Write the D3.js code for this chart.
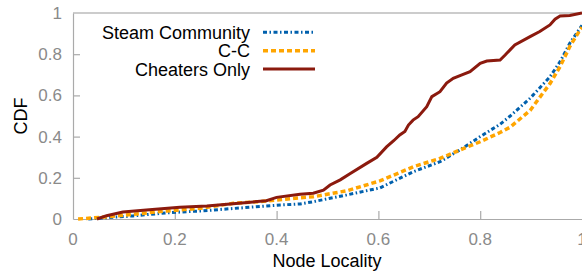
<!DOCTYPE html>
<html>
<head>
<meta charset="utf-8">
<script src="https://cdn.jsdelivr.net/npm/d3@7"></script>
<style>
  body { margin: 0; background: #fff; }
  svg { display: block; font-family: "Liberation Sans", Arial, sans-serif; }
</style>
</head>
<body>
<div id="chart"></div>
<script>
// series
const steamX = [0.03, 0.118, 0.184, 0.25, 0.38, 0.407, 0.446, 0.472, 0.538, 0.603, 0.669, 0.721, 0.76, 0.80, 0.839, 0.859, 0.898, 0.937, 0.957, 0.976, 0.996, 1.0];
const steamY = [0, 0.015, 0.03, 0.039, 0.063, 0.068, 0.073, 0.084, 0.117, 0.151, 0.23, 0.278, 0.335, 0.40, 0.46, 0.50, 0.586, 0.69, 0.764, 0.853, 0.926, 0.94];

const ccX = [0.01, 0.053, 0.118, 0.184, 0.25, 0.315, 0.38, 0.446, 0.472, 0.538, 0.603, 0.669, 0.721, 0.76, 0.80, 0.839, 0.859, 0.898, 0.937, 0.957, 0.976, 0.996, 1.0];
const ccY = [0, 0.008, 0.023, 0.039, 0.052, 0.076, 0.087, 0.103, 0.108, 0.137, 0.185, 0.254, 0.294, 0.335, 0.375, 0.42, 0.446, 0.527, 0.657, 0.74, 0.837, 0.917, 0.93];

const cheatX = [0.047, 0.066, 0.098, 0.15, 0.21, 0.263, 0.32, 0.38, 0.40, 0.446, 0.472, 0.492, 0.505, 0.525, 0.544, 0.577, 0.597, 0.616, 0.63, 0.642, 0.652, 0.659, 0.668, 0.678, 0.695, 0.705, 0.721, 0.734, 0.747, 0.764, 0.78, 0.80, 0.813, 0.839, 0.849, 0.868, 0.898, 0.917, 0.937, 0.947, 0.957, 0.976, 1.0];
const cheatY = [0, 0.016, 0.034, 0.045, 0.057, 0.063, 0.075, 0.089, 0.105, 0.12, 0.125, 0.14, 0.165, 0.19, 0.22, 0.27, 0.30, 0.35, 0.38, 0.408, 0.425, 0.456, 0.48, 0.497, 0.545, 0.594, 0.618, 0.66, 0.683, 0.70, 0.715, 0.756, 0.767, 0.772, 0.796, 0.845, 0.885, 0.91, 0.942, 0.97, 0.985, 0.988, 1.0];

const seriesNames = ['Steam Community', 'C-C', 'Cheaters Only'];
const xTicks = [0, 0.2, 0.4, 0.6, 0.8, 1];
const yTicks = [0, 0.2, 0.4, 0.6, 0.8, 1];

const W = 582, H = 278;
const margin = {top: 13, right: 0, bottom: 59, left: 73};

const x = d3.scaleLinear().domain([0, 1]).range([margin.left, W - margin.right]);
const y = d3.scaleLinear().domain([0, 1]).range([H - margin.bottom, margin.top]);

const svg = d3.select('#chart').append('svg')
  .attr('width', W)
  .attr('height', H);

svg.append('defs').append('clipPath').attr('id', 'plot')
  .append('rect')
  .attr('x', margin.left).attr('y', margin.top - 3)
  .attr('width', W - margin.left).attr('height', H - margin.bottom - margin.top + 6);

// frame: top line
svg.append('line')
  .attr('x1', x(0)).attr('x2', x(1))
  .attr('y1', y(1)).attr('y2', y(1))
  .attr('stroke', '#999').attr('stroke-width', 1.2);

// axes, ticks pointing inward
const xAxis = g => g
  .attr('transform', `translate(0,${y(0)})`)
  .call(d3.axisTop(x).tickValues(xTicks).tickSize(8).tickSizeOuter(0).tickFormat(d3.format('')))
  .call(g => g.selectAll('.tick text').remove());

const yAxis = g => g
  .attr('transform', `translate(${x(0)},0)`)
  .call(d3.axisRight(y).tickValues(yTicks).tickSize(7).tickSizeOuter(0).tickFormat(d3.format('')))
  .call(g => g.selectAll('.tick text').remove());

svg.append('g').call(xAxis);
svg.append('g').call(yAxis);
svg.selectAll('.domain, .tick line').attr('stroke', '#aaa').attr('stroke-width', 1.2);
svg.selectAll('.tick').filter(d => d === 0 || d === 1).select('line').remove();

// tick labels
svg.append('g').selectAll('text')
  .data(xTicks)
  .enter().append('text')
  .attr('x', d => x(d))
  .attr('y', 245)
  .attr('text-anchor', 'middle')
  .attr('font-size', 17)
  .attr('fill', '#8a8a8a')
  .text(d => d3.format('')(d));

svg.append('g').selectAll('text')
  .data(yTicks)
  .enter().append('text')
  .attr('x', x(0) - 11)
  .attr('y', d => y(d) + 6)
  .attr('text-anchor', 'end')
  .attr('font-size', 17)
  .attr('fill', '#8a8a8a')
  .text(d => d3.format('')(d));

// axis titles
svg.append('text')
  .attr('x', 327).attr('y', 267)
  .attr('text-anchor', 'middle')
  .attr('font-size', 18)
  .text('Node Locality');

svg.append('text')
  .attr('transform', `translate(27,${(y(0) + y(1)) / 2}) rotate(-90)`)
  .attr('text-anchor', 'middle')
  .attr('font-size', 18)
  .text('CDF');

// curves
const styles = [
  {xs: steamX, ys: steamY, color: '#0060ad', dash: '4,2.5,1.5,2.5', width: 3},
  {xs: ccX, ys: ccY, color: '#ffa500', dash: '5,3', width: 3.5},
  {xs: cheatX, ys: cheatY, color: '#8b1a0e', dash: null, width: 3}
];

const line = d3.line().x(d => x(d[0])).y(d => y(d[1]));

const plot = svg.append('g').attr('clip-path', 'url(#plot)');
styles.forEach(s => {
  const pts = s.xs.map((v, i) => [v, s.ys[i]]);
  plot.append('path')
    .datum(pts)
    .attr('fill', 'none')
    .attr('stroke', s.color)
    .attr('stroke-width', s.width)
    .attr('stroke-dasharray', s.dash)
    .attr('d', line);
});

// legend
const legendY = [32.3, 50.7, 69];
const legend = svg.append('g');
styles.forEach((s, i) => {
  legend.append('text')
    .attr('x', 250).attr('y', legendY[i] + 6.5)
    .attr('text-anchor', 'end')
    .attr('font-size', 18)
    .text(seriesNames[i]);
  legend.append('line')
    .attr('x1', 263).attr('x2', 315)
    .attr('y1', legendY[i]).attr('y2', legendY[i])
    .attr('stroke', s.color)
    .attr('stroke-width', s.width)
    .attr('stroke-dasharray', s.dash);
});
</script>
</body>
</html>
